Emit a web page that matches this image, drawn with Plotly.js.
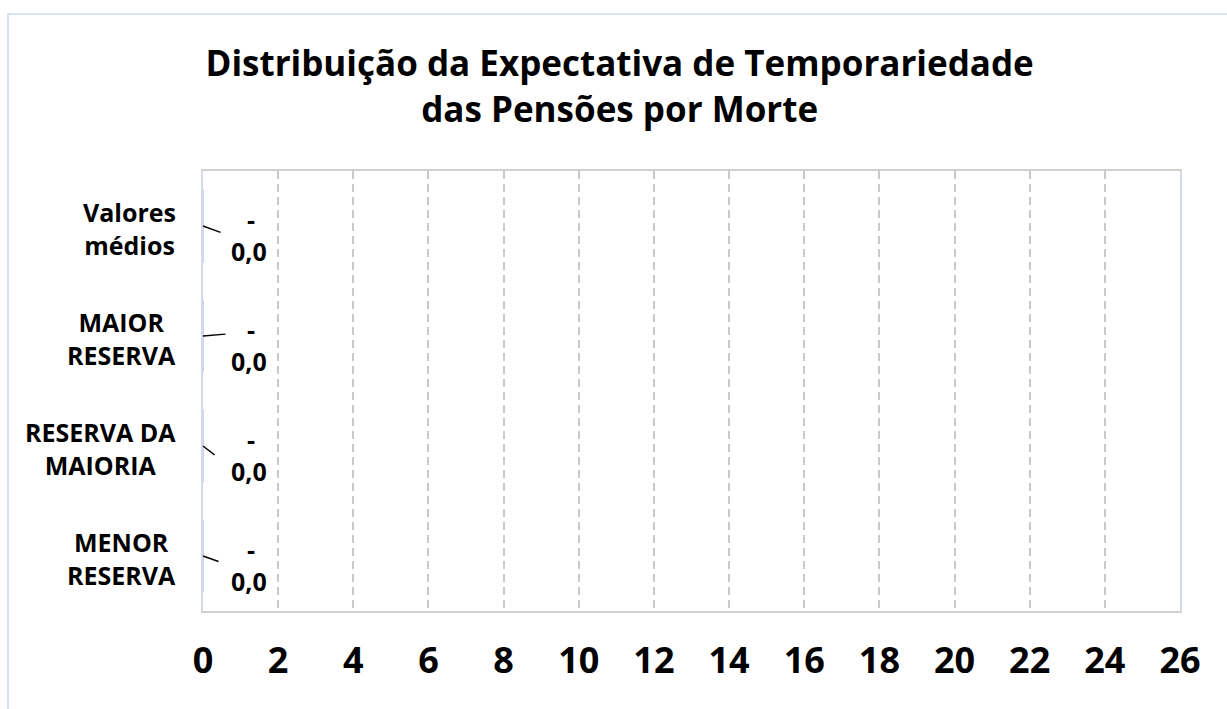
<!DOCTYPE html>
<html>
<head>
<meta charset="utf-8">
<script src="https://cdn.plot.ly/plotly-3.0.1.min.js"></script>
<style>
  html, body { margin: 0; padding: 0; background: #ffffff; }
  #wrap { position: relative; width: 1227px; height: 709px; overflow: hidden; }
  #frame { position: absolute; left: 7px; top: 13px; width: 1240px; height: 720px;
           border-left: 2px solid #dae3f3; border-top: 2px solid #dae3f3; box-sizing: border-box; pointer-events: none; }
  #chart { position: absolute; left: 0; top: 0; width: 1227px; height: 709px; }
</style>
</head>
<body>
<div id="wrap">
  <div id="chart"></div>
  <div id="frame"></div>
</div>
<script>
// ---- data ----
const categories = ["Valores médios", "MAIOR RESERVA", "RESERVA DA MAIORIA", "MENOR RESERVA"];
const categoryLabels = ["Valores<br>médios", "MAIOR<br>RESERVA", "RESERVA DA<br>MAIORIA", "MENOR<br>RESERVA"];
const seriesA = [0, 0, 0, 0];   // shown as "-"
const seriesB = [0, 0, 0, 0];   // shown as "0,0"
const xTicks = [0, 2, 4, 6, 8, 10, 12, 14, 16, 18, 20, 22, 24, 26];
const titleText = "Distribuição da Expectativa de Temporariedade<br>das Pensões por Morte";

// ---- styling ----
const FONT = "'Open Sans', sans-serif";
const leaderEnds = [[19, 7], [24, -2], [13, 10], [17, 6]];

function fmtA(v) { return v === 0 ? "-" : v.toFixed(1).replace(".", ","); }
function fmtB(v) { return v.toFixed(1).replace(".", ","); }

const traces = [
  { type: "bar", orientation: "h", y: categories, x: seriesA, name: "A",
    marker: { color: "#4472c4", line: { color: "#b4c7e7", width: 1 } }, hoverinfo: "skip" },
  { type: "bar", orientation: "h", y: categories, x: seriesB, name: "B",
    marker: { color: "#ed7d31", line: { color: "#b4c7e7", width: 1 } }, hoverinfo: "skip" }
];

const annotations = [];
categories.forEach((c, i) => {
  annotations.push({ xref: "paper", yref: "y", x: 0, y: c, xshift: -25, yshift: -2, xanchor: "right",
    align: "center", text: categoryLabels[i], showarrow: false,
    font: { family: FONT, size: 25, color: "#000000", weight: "bold" } });
  annotations.push({ xref: "x", yref: "y", x: seriesA[i], y: c, xshift: 48, yshift: 7,
    text: fmtA(seriesA[i]), showarrow: false, xanchor: "center", yanchor: "middle",
    font: { family: FONT, size: 25, color: "#000000", weight: "bold" } });
  annotations.push({ xref: "x", yref: "y", x: seriesB[i], y: c, xshift: 46, yshift: -25,
    text: fmtB(seriesB[i]), showarrow: false, xanchor: "center", yanchor: "middle",
    font: { family: FONT, size: 25, color: "#000000", weight: "bold" } });
  annotations.push({ xref: "x", yref: "y", x: seriesB[i], y: c, text: " ",
    showarrow: true, arrowhead: 0, arrowwidth: 1.4, arrowcolor: "#000000", standoff: 0,
    ax: leaderEnds[i][0], ay: leaderEnds[i][1], font: { size: 1 } });
});

const layout = {
  width: 1227, height: 709,
  margin: { l: 203, r: 47, t: 171, b: 98, pad: 0 },
  paper_bgcolor: "rgba(0,0,0,0)", plot_bgcolor: "#ffffff",
  showlegend: false, barmode: "group", bargap: 0.34,
  title: { text: titleText, xref: "container", x: 0.505, xanchor: "center",
           yref: "container", y: 1 - 76 / 709, yanchor: "middle",
           font: { family: FONT, size: 35, color: "#000000", weight: "bold" } },
  xaxis: { range: [0, 26], tickvals: xTicks, ticktext: xTicks.map(String),
           showgrid: true, gridcolor: "#c9c9c9", gridwidth: 2, griddash: "8px,5px",
           zeroline: false, showline: true, linecolor: "#cfcfcf", linewidth: 2, mirror: true,
           ticks: "", ticklabelstandoff: 17,
           tickfont: { family: FONT, size: 36, color: "#000000", weight: "bold" } },
  yaxis: { type: "category", autorange: "reversed", showticklabels: false,
           showgrid: false, zeroline: false, showline: true, linecolor: "#d3dbea", linewidth: 2, mirror: true,
           ticks: "" },
  annotations: annotations
};

Plotly.newPlot("chart", traces, layout, { displayModeBar: false, staticPlot: true });
</script>
</body>
</html>
